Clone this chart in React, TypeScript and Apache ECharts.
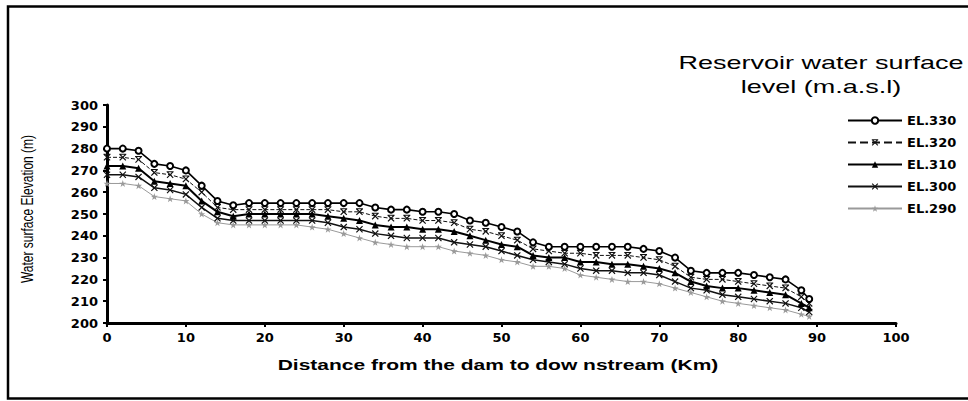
import React, { useEffect, useRef } from 'react';
import * as echarts from 'echarts';

const distanceKm = [0, 2, 4, 6, 8, 10, 12, 14, 16, 18, 20, 22, 24, 26, 28, 30, 32, 34, 36, 38, 40, 42, 44, 46, 48, 50, 52, 54, 56, 58, 60, 62, 64, 66, 68, 70, 72, 74, 76, 78, 80, 82, 84, 86, 88, 89];

const el330 = [280, 280, 279, 273, 272, 270, 263, 256, 254, 255, 255, 255, 255, 255, 255, 255, 255, 253, 252, 252, 251, 251, 250, 247, 246, 244, 242, 237, 235, 235, 235, 235, 235, 235, 234, 233, 230, 224, 223, 223, 223, 222, 221, 220, 215, 211];
const el320 = [276, 276, 275, 269, 268, 266, 260, 253, 252, 252, 252, 252, 252, 252, 252, 251, 251, 249, 248, 248, 247, 247, 246, 243, 242, 240, 238, 234, 233, 232, 232, 231, 231, 231, 230, 229, 226, 221, 220, 220, 219, 218, 217, 216, 212, 209];
const el310 = [272, 272, 271, 265, 264, 263, 256, 251, 249, 250, 250, 250, 250, 250, 249, 248, 247, 245, 244, 244, 243, 243, 242, 240, 238, 236, 235, 231, 230, 230, 228, 228, 227, 227, 226, 225, 223, 219, 217, 216, 216, 215, 214, 213, 209, 207];
const el300 = [268, 268, 267, 262, 261, 259, 253, 248, 247, 247, 247, 247, 247, 247, 246, 244, 243, 241, 240, 239, 239, 239, 237, 236, 235, 233, 231, 229, 228, 227, 225, 224, 224, 223, 223, 222, 219, 216, 215, 213, 212, 211, 210, 209, 207, 205];
const el290 = [264, 264, 263, 258, 257, 256, 250, 246, 245, 245, 245, 245, 245, 244, 243, 241, 239, 237, 236, 235, 235, 235, 233, 232, 231, 229, 228, 226, 226, 225, 222, 221, 220, 219, 219, 218, 216, 214, 212, 210, 209, 208, 207, 206, 204, 203];

const seriesNames = ['EL.330', 'EL.320', 'EL.310', 'EL.300', 'EL.290'];
const seriesValues = [el330, el320, el310, el300, el290];

const titleLines = ['Reservoir water surface', 'level (m.a.s.l)'];
const xAxisTitle = 'Distance from the dam to dow nstream (Km)';
const yAxisTitle = 'Water surface Elevation (m)';

const xMin = 0, xMax = 100, xStep = 10;
const yMin = 200, yMax = 300, yStep = 10;

const symX = 'path://M0,1.2L1.2,0L5,3.8L8.8,0L10,1.2L6.2,5L10,8.8L8.8,10L5,6.2L1.2,10L0,8.8L3.8,5Z';
const symAst = 'path://M0,1.2L1.2,0L5,3.8L8.8,0L10,1.2L6.2,5L10,8.8L8.8,10L5,6.2L1.2,10L0,8.8L3.8,5Z M0,0L10,0L10,1.4L0,1.4Z';
const symStar = 'path://M5,0L6.2,3.8L10,3.8L7,6.2L8.1,10L5,7.6L1.9,10L3,6.2L0,3.8L3.8,3.8Z';

const styles = [
  { symbol: 'emptyCircle', symbolSize: 6, color: '#000', width: 1.6, type: 'solid' },
  { symbol: symAst, symbolSize: 7, color: '#111', width: 1, type: 'dashed' },
  { symbol: 'triangle', symbolSize: 7, color: '#000', width: 2, type: 'solid' },
  { symbol: symX, symbolSize: 7, color: '#111', width: 1.5, type: 'solid' },
  { symbol: symStar, symbolSize: 7, color: '#9a9a9a', width: 1, type: 'solid' },
];

export default function App() {
  const ref = useRef<HTMLDivElement>(null);
  useEffect(() => {
    if (!ref.current) return;
    const chart = echarts.init(ref.current, undefined, { renderer: 'svg' });
    const labelFont = { fontFamily: 'DejaVu Sans', fontWeight: 'bold' as const, fontSize: 13, color: '#000' };
    chart.setOption({
      animation: false,
      backgroundColor: '#fff',
      grid: { left: 107, right: 72, top: 105, bottom: 78, containLabel: false },
      xAxis: {
        type: 'value', min: xMin, max: xMax, interval: xStep,
        axisLine: { show: true, lineStyle: { color: '#000', width: 3 } },
        axisTick: { show: true, length: 4, lineStyle: { color: '#000', width: 2 } },
        splitLine: { show: false },
        axisLabel: { ...labelFont, margin: 8 },
      },
      yAxis: {
        type: 'value', min: yMin, max: yMax, interval: yStep,
        axisLine: { show: true, lineStyle: { color: '#000', width: 3 } },
        axisTick: { show: true, length: 4, lineStyle: { color: '#000', width: 2 } },
        splitLine: { show: false },
        axisLabel: { ...labelFont, margin: 9 },
      },
      legend: {
        orient: 'vertical', left: 842, top: 109,
        itemWidth: 54, itemHeight: 8, itemGap: 9,
        data: seriesNames,
        textStyle: { fontFamily: 'DejaVu Sans', fontWeight: 'bold', fontSize: 13, color: '#000' },
      },
      graphic: [
        { type: 'rect', shape: { x: 8, y: 6.5, width: 980, height: 392 }, style: { fill: 'none', stroke: '#000', lineWidth: 2.5 }, silent: true },
        { type: 'text', x: 821, y: 63, scaleX: 1.5, style: { text: titleLines[0], fontFamily: 'Liberation Sans', fontSize: 18, fill: '#000', align: 'center', verticalAlign: 'middle' } },
        { type: 'text', x: 821, y: 87, scaleX: 1.5, style: { text: titleLines[1], fontFamily: 'Liberation Sans', fontSize: 18, fill: '#000', align: 'center', verticalAlign: 'middle' } },
        { type: 'text', x: 498, y: 365, scaleX: 1.5, style: { text: xAxisTitle, fontFamily: 'Liberation Sans', fontWeight: 'bold', fontSize: 14, fill: '#000', align: 'center', verticalAlign: 'middle' } },
        { type: 'text', x: 27, y: 209, rotation: Math.PI / 2, scaleY: 1.3, style: { text: yAxisTitle, fontFamily: 'Liberation Sans', fontSize: 12, fill: '#000', align: 'center', verticalAlign: 'middle' } },
      ],
      series: seriesNames.map((name, i) => ({
        name,
        type: 'line',
        data: distanceKm.map((d, j) => [d, seriesValues[i][j]]),
        symbol: styles[i].symbol,
        symbolSize: styles[i].symbolSize,
        showAllSymbol: true,
        lineStyle: { color: styles[i].color, width: styles[i].width, type: styles[i].type },
        itemStyle: { color: styles[i].color, borderColor: styles[i].color, borderWidth: styles[i].symbol === 'emptyCircle' ? 1.6 : 0 },
        z: 10 - i,
      })),
    });
    return () => chart.dispose();
  }, []);
  return <div ref={ref} style={{ position: 'absolute', left: 0, top: 0, width: 968, height: 401 }} />;
}
